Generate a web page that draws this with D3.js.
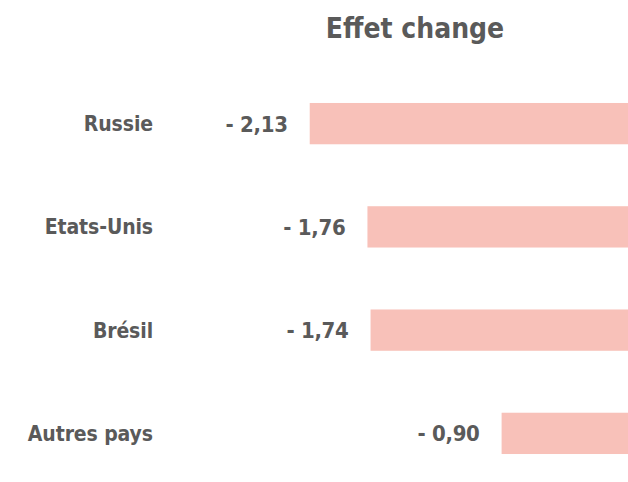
<!DOCTYPE html>
<html>
<head>
<meta charset="utf-8">
<script src="https://cdn.jsdelivr.net/npm/d3@7"></script>
<style>
body{margin:0;background:#fff;}
svg{display:block;}
</style>
</head>
<body>
<div class="Graph"></div>
<script>
// données
const pays = ["Russie", "Etats-Unis", "Brésil", "Autres pays"];
const effet = [-2.13, -1.76, -1.74, -0.90];
const etiquettes = ["- 2,13", "- 1,76", "- 1,74", "- 0,90"];

const W = 628, H = 482;
const police = "'DejaVu Sans Condensed', 'DejaVu Sans', sans-serif";
const gris = "#5a5a5a";

let svg = d3.select(".Graph")
    .append("svg")
    .attr("width", W)
    .attr("height", H);

// titre
svg.append("text")
    .attr("x", 415)
    .attr("y", 38)
    .attr("text-anchor", "middle")
    .attr("font-family", police)
    .attr("font-weight", "bold")
    .attr("font-size", 28)
    .attr("fill", gris)
    .text("Effet change");

let x = d3.scaleLinear()//axe x (zéro hors cadre à droite)
    .domain([-2.5, 0])
    .range([252, 642]);

let y = d3.scaleBand()//axe y
    .domain(pays)
    .range([72, 485])
    .paddingInner(0.6)
    .paddingOuter(0.3);

let rows = svg.selectAll(".row")
    .data(pays)
    .enter()
    .append("g")
    .attr("class", "row");

rows.append("rect")
    .attr("x", (d, i) => x(effet[i]))
    .attr("y", d => y(d))
    .attr("width", (d, i) => x(0) - x(effet[i]))
    .attr("height", y.bandwidth())
    .attr("fill", "#f8c1b9");

rows.append("text")//noms des pays
    .attr("x", 153)
    .attr("y", d => y(d) + y.bandwidth() / 2)
    .attr("dy", "0.36em")
    .attr("text-anchor", "end")
    .attr("font-family", police)
    .attr("font-weight", "bold")
    .attr("font-size", 21)
    .attr("letter-spacing", -0.1)
    .attr("fill", gris)
    .text(d => d);

rows.append("text")//valeurs
    .attr("x", (d, i) => x(effet[i]) - 22)
    .attr("y", d => y(d) + y.bandwidth() / 2)
    .attr("dy", "0.36em")
    .attr("text-anchor", "end")
    .attr("font-family", police)
    .attr("font-weight", "bold")
    .attr("font-size", 22)
    .attr("letter-spacing", -0.3)
    .attr("fill", gris)
    .text((d, i) => etiquettes[i]);
</script>
</body>
</html>
